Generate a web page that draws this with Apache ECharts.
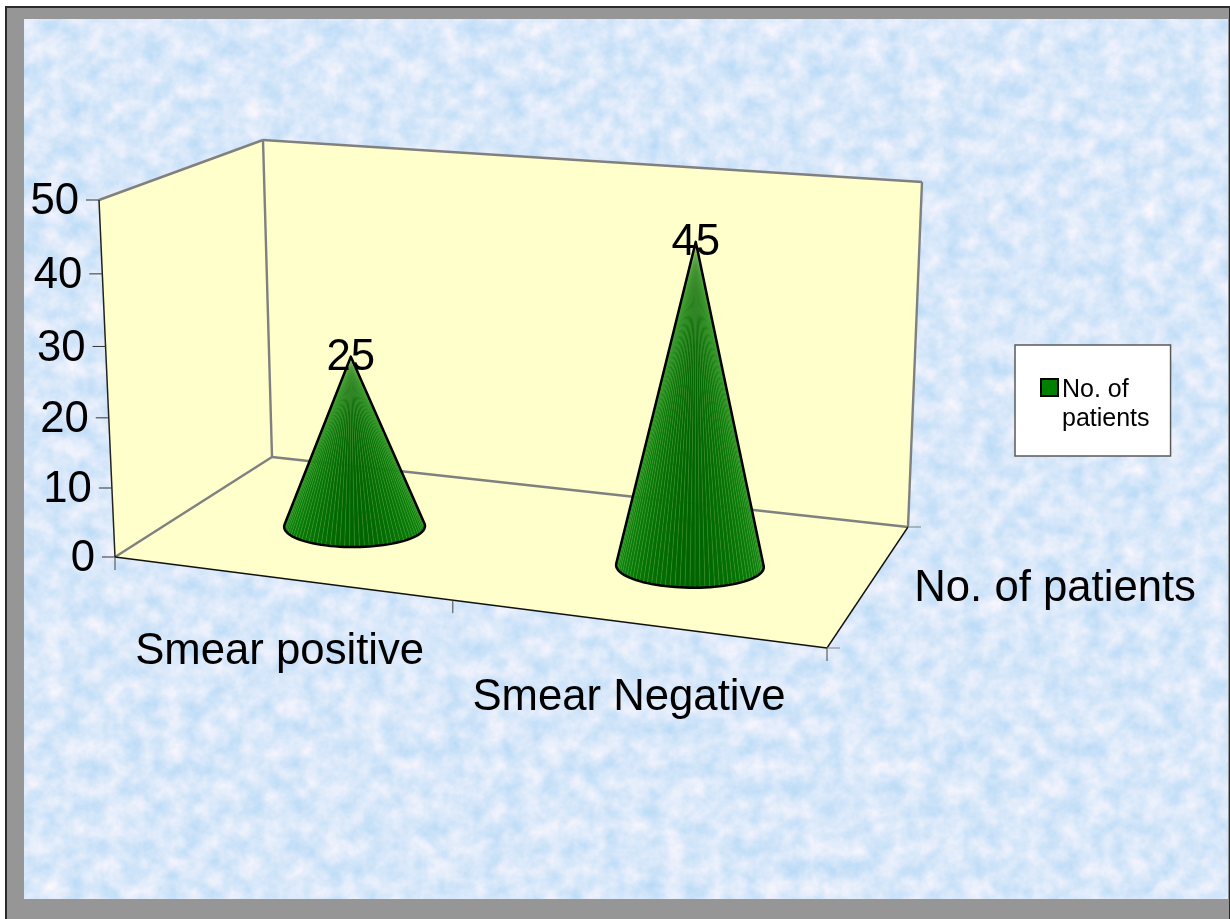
<!DOCTYPE html>
<html>
<head>
<meta charset="utf-8">
<script src="https://cdn.jsdelivr.net/npm/echarts@6/dist/echarts.min.js"></script>
<style>
html,body{margin:0;padding:0;background:#fff;width:1230px;height:919px;overflow:hidden}
#frame{position:absolute;left:5px;top:6px;width:1222px;height:913px;border-left:2px solid #2a2a2a;border-top:2px solid #2a2a2a;border-right:2px solid #2a2a2a;background:#969696;box-sizing:content-box}
#paper{position:absolute;left:24px;top:19px;width:1204px;height:880px}
#main{position:absolute;left:0;top:0;width:1230px;height:919px}
</style>
</head>
<body>
<div id="frame"></div>
<div id="paper"></div>
<div id="main"></div>
<script>
// ---- data ----
const categories = ['Smear positive', 'Smear Negative'];
const patients = [25, 45];
const valueTicks = [0, 10, 20, 30, 40, 50];
const seriesName = 'No. of patients';

// ---- paper texture (deterministic SVG noise) ----
const svg = '<svg xmlns="http://www.w3.org/2000/svg" width="1204" height="880">' +
  '<filter id="n" x="0" y="0" width="100%" height="100%" color-interpolation-filters="sRGB">' +
  '<feTurbulence type="fractalNoise" baseFrequency="0.05" numOctaves="6" seed="11"/>' +
  '<feColorMatrix values="0.30 0 0 0 0.70  0.13 0 0 0 0.845  0.03 0 0 0 0.965  0 0 0 0 1"/>' +
  '</filter><rect width="1204" height="880" filter="url(#n)"/></svg>';
document.getElementById('paper').style.background = 'url("data:image/svg+xml,' + encodeURIComponent(svg) + '")';

// ---- 3D box projection ----
const G = { left: 115, top: 200, width: 712, height: 357 };
const C = { fl: [115, 557], fr: [827, 648], br: [908, 527], bl: [272, 457], flTop: [99, 200], blTop: [263, 140], brTop: [922, 182] };
const P = (function () {
  const [x0, y0] = C.fl, [x1, y1] = C.fr, [x2, y2] = C.br, [x3, y3] = C.bl;
  const dx1 = x1 - x2, dx2 = x3 - x2, sx = x0 - x1 + x2 - x3;
  const dy1 = y1 - y2, dy2 = y3 - y2, sy = y0 - y1 + y2 - y3;
  const den = dx1 * dy2 - dx2 * dy1;
  const g = (sx * dy2 - dx2 * sy) / den, h = (dx1 * sy - sx * dy1) / den;
  return { a: x1 - x0 + g * x1, b: x3 - x0 + h * x3, c: x0, d: y1 - y0 + g * y1, e: y3 - y0 + h * y3, f: y0, g, h };
})();
function floor(u, w) {
  const q = 1 + P.g * u + P.h * w;
  return { x: (P.a * u + P.b * w + P.c) / q, y: (P.d * u + P.e * w + P.f) / q, scale: 1 / q };
}
// the vertical scale foreshortens slightly towards the floor
const rise = t => 0.9583 * t / (1 - 0.0417 * t);
const toU = px => (px - G.left) / G.width;
const font = s => s + 'px "Liberation Sans", Arial, sans-serif';
const text = (t, x, y, size, align) => ({ type: 'text', silent: true, z2: 50, style: { text: t, x, y, font: font(size), fill: '#000', align: align || 'center', verticalAlign: 'middle' } });
const seg = (a, b, color, w) => ({ type: 'line', silent: true, shape: { x1: a[0], y1: a[1], x2: b[0], y2: b[1] }, style: { stroke: color, lineWidth: w } });
const GREY = '#808080';
const LABEL = 43.7;

function renderAxes(params, api) {
  const kids = [];
  const base = api.coord([0, 0])[1];
  valueTicks.forEach(v => {
    const t = rise((base - api.coord([0, v])[1]) / G.height);
    const y = base - t * G.height;
    const x = C.fl[0] + (C.flTop[0] - C.fl[0]) * t;
    kids.push(seg([x - 13, y], [x, y], '#333', 1));
    kids.push(text(String(v), x - 20, y + 2, LABEL, 'right'));
  });
  kids.push(seg(C.fl, [C.fl[0], C.fl[1] + 13], '#444', 1));
  const mid = floor(0.5, 0);
  kids.push(seg([mid.x, mid.y], [mid.x, mid.y + 13], '#444', 1));
  kids.push(seg(C.fr, [C.fr[0], C.fr[1] + 13], '#444', 1));
  kids.push(seg(C.fr, [C.fr[0] + 13, C.fr[1]], GREY, 1));
  kids.push(seg(C.br, [C.br[0] + 13, C.br[1]], GREY, 1));
  categories.forEach((c, i) => {
    const u = toU(api.coord([i, 0])[0]);
    const p = floor(u, 0);
    kids.push(text(c, p.x + 3 - 12 * u, p.y + 74, LABEL));
  });
  const d = floor(1, 0.5);
  kids.push(text(seriesName, d.x + 44, d.y + 6, LABEL, 'left'));
  return { type: 'group', children: kids };
}

function mix(a, b, t) {
  return 'rgb(' + a.map((v, i) => Math.round(v + (b[i] - v) * t)).join(',') + ')';
}
function renderCone(params, api) {
  const i = api.value(0), val = api.value(1);
  const foot = floor(toU(api.coord([i, 0])[0]), 0.5);
  const cx = foot.x, cy = foot.y + 4;
  const y0 = api.coord([i, 0])[1];
  const h = rise((y0 - api.coord([i, val])[1]) / G.height) * G.height * foot.scale + 2;
  const ax = cx + (cx - 539) * 1.19e-4 * h, ay = cy - h;
  const a = api.size([1, 0])[0] * 0.206 * foot.scale;
  const b = 21.5 * foot.scale;
  const tilt = (cx - 450) * 6e-5;
  const t0 = Math.asin(b / h);
  const N = 48;
  const pts = [];
  for (let k = 0; k <= N; k++) {
    const th = -t0 + (Math.PI + 2 * t0) * k / N;
    const dx = a * Math.cos(th);
    pts.push([cx + dx, cy + b * Math.sin(th) + dx * tilt, Math.abs(Math.cos(th))]);
  }
  const kids = [];
  for (let k = 0; k < N; k++) {
    const p = pts[k], q = pts[k + 1];
    const col = mix([0, 100, 0], [10, 130, 10], Math.pow((p[2] + q[2]) / 2, 1.5));
    kids.push({ type: 'polygon', silent: true, shape: { points: [[ax, ay], [p[0], p[1]], [q[0], q[1]]] }, style: { fill: col, stroke: col, lineWidth: 0.4 } });
  }
  for (let k = 1; k < N; k++) {
    kids.push(seg([ax, ay], [pts[k][0], pts[k][1]], 'rgba(175,220,135,0.36)', 0.5));
  }
  const outline = [[ax, ay]].concat(pts.map(p => [p[0], p[1]]));
  kids.push({ type: 'polygon', silent: true, shape: { points: outline }, style: { fill: 'none', stroke: '#000', lineWidth: 2.5, lineJoin: 'round' } });
  kids.push(text(String(val), ax, ay + 1, LABEL));
  return { type: 'group', children: kids };
}

const poly = (pts, fill) => ({ type: 'polygon', silent: true, z: 0, shape: { points: pts }, style: { fill, stroke: 'none' } });
const edge = (a, b, color, w) => ({ type: 'line', silent: true, z: 1, shape: { x1: a[0], y1: a[1], x2: b[0], y2: b[1] }, style: { stroke: color, lineWidth: w } });

const chart = echarts.init(document.getElementById('main'), null, { renderer: 'canvas' });
chart.setOption({
  animation: false,
  backgroundColor: 'transparent',
  grid: { left: G.left, top: G.top, width: G.width, height: G.height },
  xAxis: { type: 'category', data: categories, show: false },
  yAxis: { type: 'value', min: 0, max: 50, interval: 10, show: false },
  tooltip: { show: false },
  legend: {
    data: [{ name: seriesName, icon: 'path://M0 0H17V17H0Z M0 52Z' }],
    orient: 'vertical', left: 1015, top: 345,
    padding: [31, 21, 22, 25],
    itemWidth: 17, itemHeight: 52, itemGap: 0,
    backgroundColor: '#fff', borderColor: '#5a5a5a', borderWidth: 1.5,
    itemStyle: { color: '#008000', borderColor: '#000', borderWidth: 2 },
    textStyle: { fontFamily: '"Liberation Sans", Arial, sans-serif', fontSize: 25, color: '#000', lineHeight: 29, padding: [0, 0, 0, -1] },
    selectedMode: false,
    formatter: () => 'No. of\npatients'
  },
  graphic: { elements: [
    poly([C.flTop, C.blTop, C.bl, C.fl], '#FFFFCC'),
    poly([C.blTop, C.brTop, C.br, C.bl], '#FFFFCC'),
    poly([C.fl, C.bl, C.br, C.fr], '#FFFFCC'),
    edge(C.flTop, C.blTop, GREY, 2.4),
    edge(C.blTop, C.brTop, GREY, 2.4),
    edge(C.brTop, C.br, GREY, 2.4),
    edge(C.blTop, C.bl, GREY, 2.4),
    edge(C.bl, C.br, GREY, 2.4),
    edge(C.bl, C.fl, GREY, 2.4),
    edge(C.flTop, C.fl, '#222', 1.5),
    edge(C.fl, C.fr, '#111', 1.4),
    edge(C.fr, C.br, '#111', 1.4)
  ] },
  series: [
    { type: 'custom', name: 'axes', silent: true, clip: false, z: 3, renderItem: renderAxes, data: [[0, 0]], encode: { x: 0, y: 1 } },
    { type: 'custom', name: seriesName, silent: true, clip: false, z: 4, renderItem: renderCone,
      itemStyle: { color: '#008000' },
      data: patients.map((v, i) => [i, v]), encode: { x: 0, y: 1 } }
  ]
});
</script>
</body>
</html>
